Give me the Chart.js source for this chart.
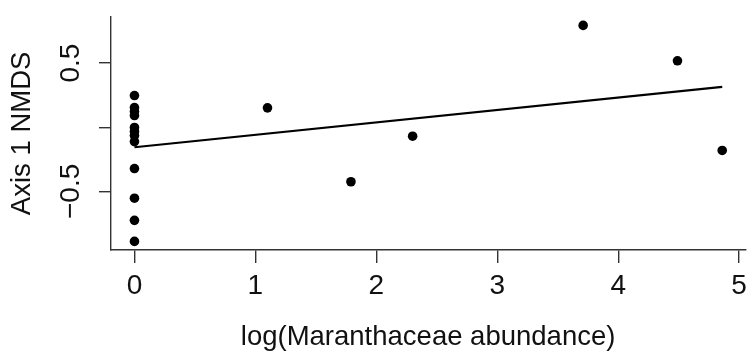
<!DOCTYPE html>
<html>
<head>
<meta charset="utf-8">
<script src="https://cdn.jsdelivr.net/npm/chart.js@4"></script>
<style>
  html, body { margin: 0; padding: 0; background: #fff; }
  #wrap { width: 750px; height: 351px; }
</style>
</head>
<body>
<div id="wrap"><canvas id="nmdsChart" width="750" height="351"></canvas></div>
<script>
// ── Data ──────────────────────────────────────────────────────────────────────
const abundance = [0, 0, 0, 0, 0, 0, 0, 0, 0, 0, 0, 0, 1.10, 1.79, 2.30, 3.71, 4.49, 4.86];
const nmds1     = [0.247, 0.153, 0.122, 0.091, -0.002, -0.033, -0.065, -0.112, -0.322, -0.553, -0.726, -0.890,
                   0.151, -0.425, -0.070, 0.794, 0.518, -0.181];
const fitX      = [0, 4.86];
const fitY      = [-0.156, 0.314];
const xTicks    = [0, 1, 2, 3, 4, 5];
const yTicks    = [-0.5, 0, 0.5];
const yLabels   = ["\u22120.5", "", "0.5"];

const FONT  = "'Liberation Sans', Arial, Helvetica, sans-serif";
const AXIS  = "#333";

// ── Chart ─────────────────────────────────────────────────────────────────────
const points = abundance.map((x, i) => ({ x, y: nmds1[i] }));
const fit    = fitX.map((x, i) => ({ x, y: fitY[i] }));

new Chart(document.getElementById("nmdsChart"), {
    type: "scatter",
    data: {
        datasets: [
            {
                data: points,
                pointRadius: 4.8,
                pointBackgroundColor: "#000",
                pointBorderWidth: 0,
            },
            {
                type: "line",
                data: fit,
                borderColor: "#000",
                borderWidth: 2.2,
                pointRadius: 0,
                fill: false,
            },
        ],
    },
    options: {
        responsive: false,
        animation: false,
        layout: { padding: { top: 16, right: 0, left: 0, bottom: 0 } },
        plugins: { legend: { display: false }, tooltip: { enabled: false } },
        scales: {
            x: {
                type: "linear",
                min: -0.194,
                max: 5.05,
                afterBuildTicks: s => { s.ticks = xTicks.map(v => ({ value: v })); },
                afterFit: s => { s.height = 101; s.paddingLeft = 0; s.paddingRight = 0; },
                border: { display: true, color: AXIS, width: 1.4 },
                grid: { drawOnChartArea: false, drawTicks: true, tickLength: 13, color: AXIS, lineWidth: 1.4 },
                ticks: { color: "#111", padding: 6, maxRotation: 0, font: { family: FONT, size: 28 } },
                title: {
                    display: true,
                    text: "log(Maranthaceae abundance)",
                    color: "#111",
                    font: { family: FONT, size: 27.5 },
                    padding: { top: 0, bottom: -3 },
                },
            },
            y: {
                type: "linear",
                min: -0.957,
                max: 0.861,
                afterBuildTicks: s => { s.ticks = yTicks.map(v => ({ value: v })); },
                afterFit: s => { s.width = 111; },
                border: { display: true, color: AXIS, width: 1.4 },
                grid: { drawOnChartArea: false, drawTicks: true, tickLength: 12, color: AXIS, lineWidth: 1.4 },
                ticks: {
                    color: "#111",
                    padding: 0,
                    minRotation: 90,
                    maxRotation: 90,
                    crossAlign: "center",
                    font: { family: FONT, size: 28 },
                    callback: v => yLabels[yTicks.indexOf(v)] ?? "",
                },
                title: {
                    display: true,
                    text: "Axis 1 NMDS",
                    color: "#111",
                    font: { family: FONT, size: 27.5 },
                    padding: { top: 6, bottom: 0 },
                },
            },
        },
    },
});
</script>
</body>
</html>
